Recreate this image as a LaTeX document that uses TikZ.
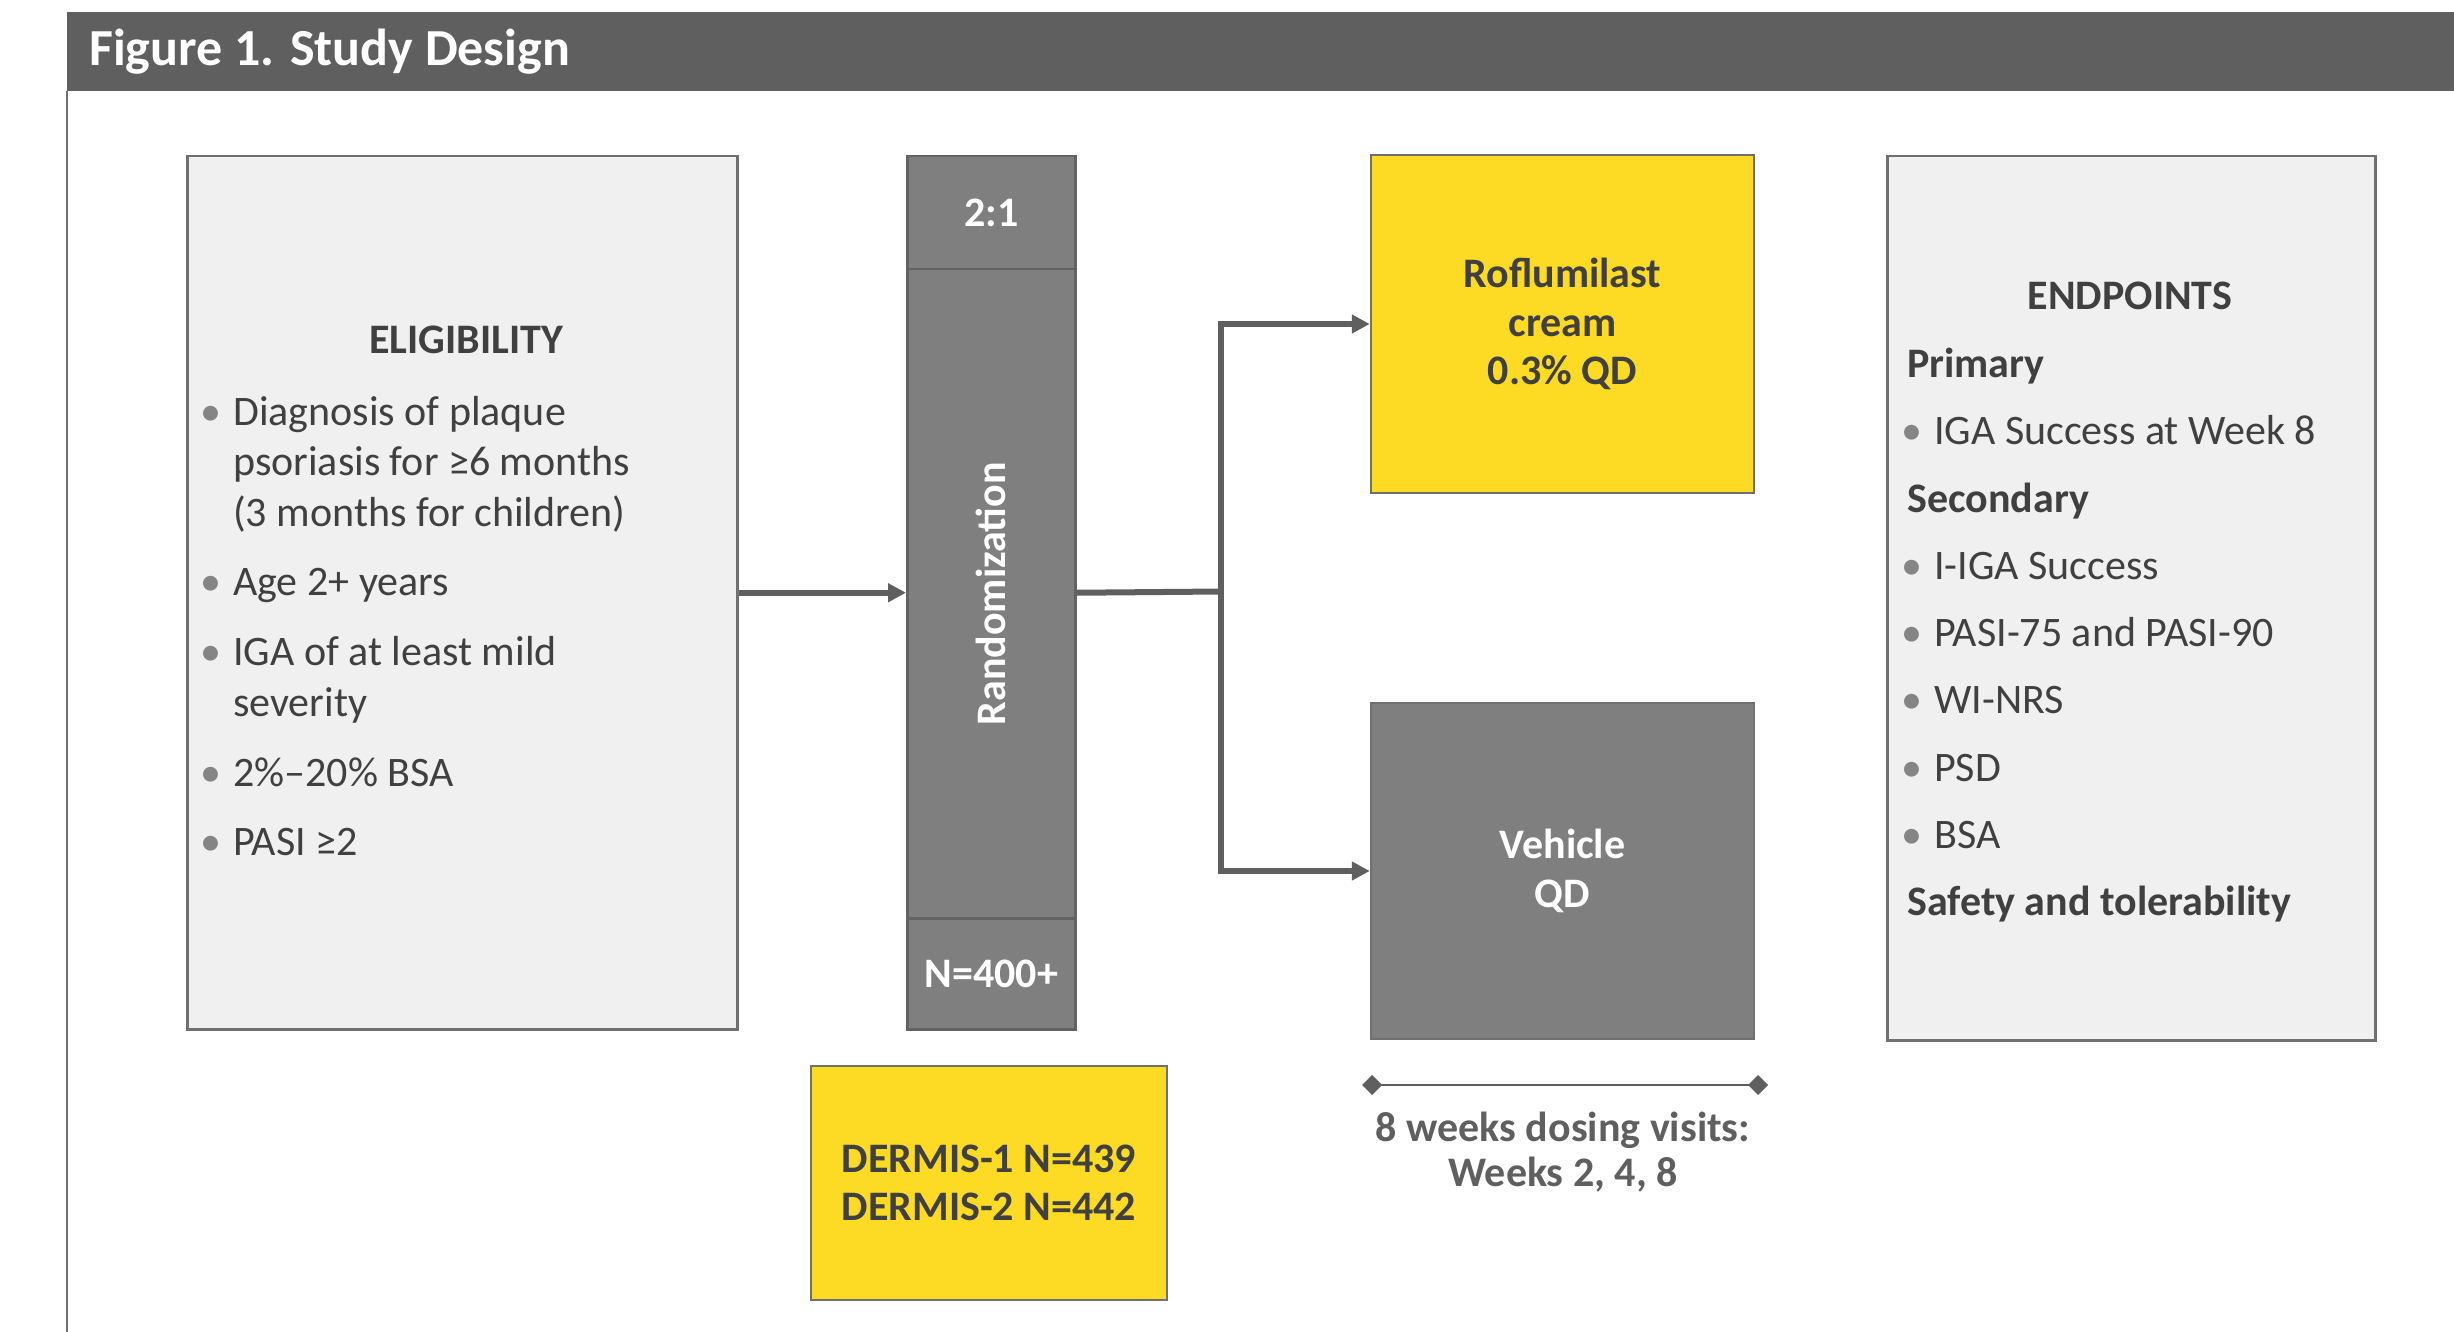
\documentclass[tikz,border=0pt]{standalone}
\usepackage{fontspec}
\setmainfont{Carlito}
\usetikzlibrary{arrows.meta}

\definecolor{headgray}{HTML}{5F5F5F}
\definecolor{framegray}{HTML}{707070}
\definecolor{panelfill}{HTML}{F0F0F0}
\definecolor{randfill}{HTML}{7F7F7F}
\definecolor{randline}{HTML}{636363}
\definecolor{armyellow}{HTML}{FDDB24}
\definecolor{textdark}{HTML}{404040}
\definecolor{linegray}{HTML}{5F5F5F}
\definecolor{dotgray}{HTML}{858585}

\newcommand{\bigtxt}{\fontsize{42}{48.5}\selectfont}
\newcommand{\bul}{\llap{\textcolor{dotgray}{\textbullet}\hspace{12pt}}}

\tikzset{
  panel/.style={draw=framegray, line width=2.5pt, fill=panelfill, anchor=north west, inner sep=0pt},
  randcell/.style={draw=randline, line width=2.5pt, fill=randfill, anchor=north west, inner sep=0pt,
    minimum width=168pt, text=white, font=\bigtxt\bfseries},
  armbox/.style={draw=framegray, line width=2.5pt, inner sep=0pt, align=center, font=\bigtxt\bfseries},
  listtext/.style={anchor=base west, inner sep=0pt, text=textdark, font=\bigtxt},
  listhead/.style={anchor=base west, inner sep=0pt, text=textdark, font=\bigtxt\bfseries},
  link/.style={draw=linegray, line width=6pt},
  conn/.style={link, -{Triangle[length=18pt,width=18pt]}}
}

\begin{document}
\begin{tikzpicture}[x=1pt,y=1pt,yscale=-1]
\useasboundingbox (0,0) rectangle (2454,1332);

%Header bar
\fill[headgray] (67,12.5) rectangle (2454,91);
\draw[framegray, line width=2pt] (67,91) -- (67,1332);
\node[anchor=base west, inner sep=0pt, text=white, font=\fontsize{52}{60}\selectfont\bfseries] (title) at (89,66) {Figure 1. Study Design};

%Eligibility panel
\node[panel, minimum width=550pt, minimum height=873pt] (elig) at (186,155) {};
\node[anchor=base, inner sep=0pt, text=textdark, font=\bigtxt\bfseries] (elighead) at (466,353) {ELIGIBILITY};
% Text Node
\node[listtext] (el1) at (233,425) {\bul Diagnosis of plaque};
\node[listtext] (el2) at (233,475) {psoriasis for ≥6 months};
\node[listtext] (el3) at (233,526) {(3 months for children)};
\node[listtext] (el4) at (233,595) {\bul Age 2+ years};
\node[listtext] (el5) at (233,665) {\bul IGA of at least mild};
\node[listtext] (el6) at (233,716) {severity};
\node[listtext] (el7) at (233,786) {\bul 2\%–20\% BSA};
\node[listtext] (el8) at (233,855) {\bul PASI ≥2};

%Randomization column
\node[randcell, minimum height=113pt] (rtop) at (906,155) {2:1};
\node[randcell, minimum height=649pt] (rmid) at (906,268) {};
\node[randcell, minimum height=111pt] (rbot) at (906,917) {N=400+};
\node[rotate=90, inner sep=0pt, text=white, font=\bigtxt\bfseries] (randtxt) at (rmid.center) {Randomization};

%Study counts
\node[armbox, fill=armyellow, text=textdark, minimum width=356pt, minimum height=234pt] (dermis) at (989,1183) {DERMIS-1 N=439\\DERMIS-2 N=442};

%Treatment arms
\node[armbox, fill=armyellow, text=textdark, minimum width=383pt, minimum height=338pt] (rof) at (1562.5,324) {Roflumilast\\cream\\0.3\% QD};
\node[armbox, fill=randfill, text=white, minimum width=383pt, minimum height=336pt] (veh) at (1562.5,871) {Vehicle\\QD};

%Straight Lines
\coordinate (split) at (1221,591.5);
\draw[conn] (elig.east) -- (elig.east -| rmid.west);
\draw[link] (elig.east -| rmid.east) -- (split);
\draw[conn] (split) |- (rof.west);
\draw[conn] (split) |- (veh.west);

%Dosing timeline
\coordinate (tl) at (1362,1085);
\coordinate (tr) at (1768,1085);
\draw[linegray, line width=2.5pt, {Diamond[length=20pt,width=20pt]}-{Diamond[length=20pt,width=20pt]}] (tl) -- (tr);
\node[anchor=base, inner sep=0pt, align=center, text=linegray, font=\fontsize{42}{45}\selectfont\bfseries] (dose) at (1563,1186) {8 weeks dosing visits:\\Weeks 2, 4, 8};

%Endpoints panel
\node[panel, minimum width=488pt, minimum height=884pt] (endp) at (1886,155) {};
\node[anchor=base, inner sep=0pt, text=textdark, font=\bigtxt\bfseries] (endhead) at (2130,309) {ENDPOINTS};
% Text Node
\node[listhead] (ep1) at (1907,377) {Primary};
\node[listtext] (ep2) at (1934,444) {\bul IGA Success at Week 8};
\node[listhead] (ep3) at (1907,512) {Secondary};
\node[listtext] (ep4) at (1934,579) {\bul I-IGA Success};
\node[listtext] (ep5) at (1934,646) {\bul PASI-75 and PASI-90};
\node[listtext] (ep6) at (1934,713) {\bul WI-NRS};
\node[listtext] (ep7) at (1934,781) {\bul PSD};
\node[listtext] (ep8) at (1934,848) {\bul BSA};
\node[listhead] (ep9) at (1907,915) {Safety and tolerability};

\end{tikzpicture}
\end{document}
